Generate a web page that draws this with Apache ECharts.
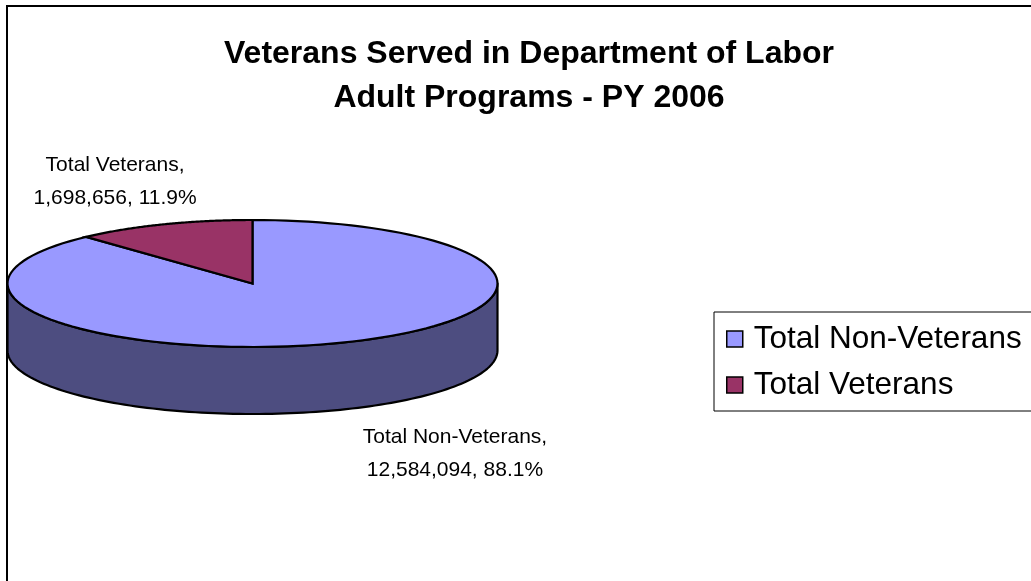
<!DOCTYPE html>
<html>
<head>
<meta charset="utf-8">
<script src="https://cdn.jsdelivr.net/npm/echarts@6/dist/echarts.min.js"></script>
<style>html,body{margin:0;padding:0;background:#fff;}#c{width:1031px;height:581px;}</style>
</head>
<body>
<div id="c"></div>
<script>
const titleLines = ['Veterans Served in Department of Labor', 'Adult Programs - PY 2006'];
const categories = ['Total Non-Veterans', 'Total Veterans'];
const values = [12584094, 1698656];

const topColors = ['#9999FF', '#993366'];
const sideColors = ['#4D4D80', '#4D1A33'];
const labelOffsets = [[113, 44], [-48, -43]];
const FONT = 'Liberation Sans, Arial, sans-serif';
const CX = 252.5, CY = 283.5, RX = 245, RY = 63.5, DEPTH = 67;

const total = values.reduce((a, b) => a + b, 0);
function pt(t, dy) { return [CX + RX * Math.sin(t), CY - RY * Math.cos(t) + (dy || 0)]; }

function makeRender(i) {
  return function (params, api) {
    const before = values.slice(0, i).reduce((a, b) => a + b, 0);
    const v = api.value(0);
    const a0 = before / total * Math.PI * 2;
    const a1 = a0 + v / total * Math.PI * 2;
    const N = 120;
    const children = [];
    const s0 = Math.max(a0, Math.PI / 2), s1 = Math.min(a1, Math.PI * 1.5);
    if (s1 > s0) {
      const pts = [];
      for (let k = 0; k <= N; k++) pts.push(pt(s0 + (s1 - s0) * k / N, 0));
      for (let k = N; k >= 0; k--) pts.push(pt(s0 + (s1 - s0) * k / N, DEPTH));
      children.push({ type: 'polygon', shape: { points: pts },
        style: { fill: sideColors[i], stroke: '#000', lineWidth: 2.2, lineJoin: 'round' } });
    }
    const top = [[CX, CY]];
    for (let k = 0; k <= N; k++) top.push(pt(a0 + (a1 - a0) * k / N, 0));
    children.push({ type: 'polygon', shape: { points: top },
      style: { fill: topColors[i], stroke: '#000', lineWidth: 2.2, lineJoin: 'miter' } });
    const mid = (a0 + a1) / 2;
    const front = Math.cos(mid) < 0;
    const anchor = pt(mid, front ? DEPTH : 0);
    const pct = (v / total * 100).toFixed(1) + '%';
    children.push({ type: 'text', style: {
      text: categories[i] + ',\n' + v.toLocaleString('en-US') + ', ' + pct,
      x: anchor[0] + labelOffsets[i][0], y: anchor[1] + labelOffsets[i][1],
      textAlign: 'center', textVerticalAlign: 'middle',
      fontSize: 21, fontFamily: FONT, fill: '#000', lineHeight: 33 } });
    return { type: 'group', children: children };
  };
}

const chart = echarts.init(document.getElementById('c'), null, { renderer: 'canvas' });
chart.setOption({
  animation: false,
  backgroundColor: '#fff',
  title: {
    text: titleLines.join('\n'),
    left: 524, top: 27, textAlign: 'center',
    textStyle: { fontFamily: FONT, fontSize: 32, fontWeight: 'bold', color: '#000', lineHeight: 44 }
  },
  legend: {
    data: categories,
    orient: 'vertical',
    left: 714, top: 312,
    padding: [11, 20, 10, 12],
    itemGap: 14,
    itemWidth: 16, itemHeight: 16,
    icon: 'rect',
    borderColor: '#000', borderWidth: 1,
    itemStyle: { borderColor: '#000', borderWidth: 1.5 },
    textStyle: { fontFamily: FONT, fontSize: 31.5, color: '#000', padding: [0, 0, 0, 6] }
  },
  graphic: [{
    type: 'rect', shape: { x: 7, y: 6, width: 1200, height: 800 },
    style: { fill: null, stroke: '#000', lineWidth: 2 }, silent: true, z: -1
  }],
  series: categories.map((name, i) => ({
    type: 'custom', name: name, coordinateSystem: 'none',
    itemStyle: { color: topColors[i] },
    data: [values[i]],
    renderItem: makeRender(i)
  }))
});
</script>
</body>
</html>
